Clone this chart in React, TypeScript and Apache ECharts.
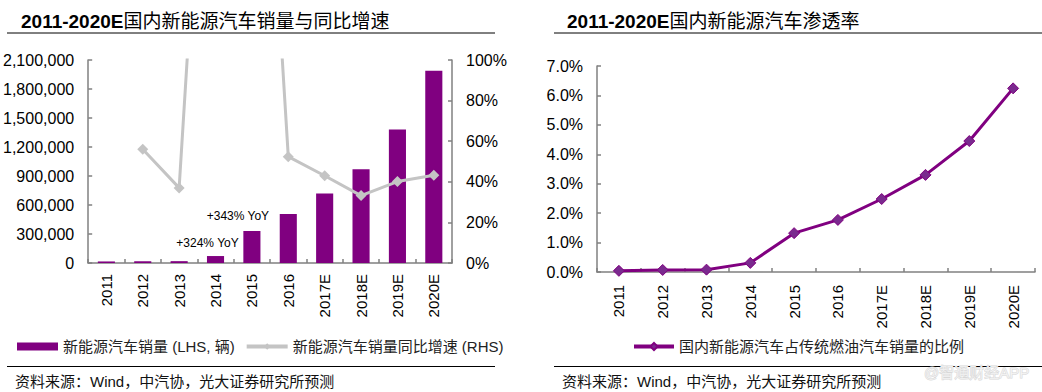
import React, { useEffect, useRef } from 'react';
import * as echarts from 'echarts';

const years = ['2011', '2012', '2013', '2014', '2015', '2016', '2017E', '2018E', '2019E', '2020E'];
const salesUnits = [16000, 18000, 19000, 72000, 331092, 507000, 720000, 970000, 1380000, 1990000];
const yoyGrowthPct = [null, 56, 37, 324, 343, 52.4, 43, 33.2, 40.1, 43.2];
const yoyNotes = ['', '', '', '+324% YoY', '+343% YoY', '', '', '', '', ''];
const penetrationPct = [0.04, 0.07, 0.08, 0.31, 1.32, 1.77, 2.48, 3.3, 4.45, 6.24];

const leftTitleNum = '2011-2020E';
const leftTitleText = '国内新能源汽车销量与同比增速';
const rightTitleText = '国内新能源汽车渗透率';
const salesName = '新能源汽车销量 (LHS, 辆)';
const growthName = '新能源汽车销量同比增速 (RHS)';
const penetrationName = '国内新能源汽车占传统燃油汽车销量的比例';
const sourceText = '资料来源：Wind，中汽协，光大证券研究所预测';
const watermark = '@智通财经APP';

const FONT = '"Liberation Sans", Arial, "Noto Sans CJK SC", sans-serif';
const AXIS = '#808080';
const PURPLE = '#800080';
const GRAY = '#C4C4C4';
const noteOffsets: Record<number, number[]> = { 3: [-8, -2], 4: [-14, -4] };

export default function App() {
  const ref = useRef<HTMLDivElement>(null);
  useEffect(() => {
    if (!ref.current) return;
    const chart = echarts.init(ref.current, null, { renderer: 'svg' });
    const axisLine = { show: true, lineStyle: { color: AXIS, width: 1.5 } };
    const tick = { show: true, inside: true, length: 4, lineStyle: { color: AXIS, width: 1.5 } };
    const xLabel = { rotate: 90, fontSize: 15, color: '#000', fontFamily: FONT, margin: 11 };
    const yLabel = { fontSize: 16, color: '#000', fontFamily: FONT, margin: 14 };
    chart.setOption({
      animation: false,
      textStyle: { fontFamily: FONT },
      title: [
        {
          text: `{a|${leftTitleNum}}{b|${leftTitleText}}`,
          left: 16, top: 7,
          textStyle: { rich: { a: { fontSize: 19, fontWeight: 'bold', color: '#000', fontFamily: FONT }, b: { fontSize: 19, fontWeight: 'normal', color: '#000', fontFamily: FONT } } },
        },
        {
          text: `{a|${leftTitleNum}}{b|${rightTitleText}}`,
          left: 562, top: 7,
          textStyle: { rich: { a: { fontSize: 19, fontWeight: 'bold', color: '#000', fontFamily: FONT }, b: { fontSize: 19, fontWeight: 'normal', color: '#000', fontFamily: FONT } } },
        },
      ],
      grid: [
        { left: 86, right: 590, top: 60, bottom: 129 },
        { left: 597, right: 7, top: 66, bottom: 120 },
      ],
      legend: [
        {
          data: [
            { name: salesName, icon: 'rect' },
            { name: growthName, lineStyle: { width: 4, color: GRAY } },
          ],
          left: 12, top: 334, itemWidth: 41, itemHeight: 8, itemGap: 10,
          textStyle: { fontSize: 15, color: '#222', fontFamily: FONT },
        },
        {
          data: [{ name: penetrationName, lineStyle: { width: 4, color: PURPLE } }],
          left: 627, top: 334, itemWidth: 40, itemHeight: 9,
          textStyle: { fontSize: 15, color: '#222', fontFamily: FONT },
        },
      ],
      xAxis: [
        { type: 'category', gridIndex: 0, data: years, axisLine, axisTick: tick, axisLabel: xLabel },
        { type: 'category', gridIndex: 1, data: years, axisLine, axisTick: tick, axisLabel: { ...xLabel, margin: 13 } },
      ],
      yAxis: [
        {
          type: 'value', gridIndex: 0, min: 0, max: 2100000, interval: 300000,
          axisLine, axisTick: tick, splitLine: { show: false },
          axisLabel: { ...yLabel, formatter: (v: number) => v.toLocaleString('en-US') },
        },
        {
          type: 'value', gridIndex: 0, position: 'right', min: 0, max: 100, interval: 20,
          axisLine, axisTick: tick, splitLine: { show: false },
          axisLabel: { ...yLabel, formatter: '{value}%' },
        },
        {
          type: 'value', gridIndex: 1, min: 0, max: 7, interval: 1,
          axisLine, axisTick: tick, splitLine: { show: false },
          axisLabel: { ...yLabel, formatter: (v: number) => v.toFixed(1) + '%' },
        },
      ],
      series: [
        {
          name: salesName, type: 'bar', xAxisIndex: 0, yAxisIndex: 0, barWidth: '47%',
          itemStyle: { color: PURPLE },
          data: salesUnits.map((v, i) => ({
            value: v,
            label: {
              show: !!yoyNotes[i], position: 'top', formatter: yoyNotes[i],
              offset: noteOffsets[i] || [0, 0], fontSize: 12, color: '#000', fontFamily: FONT,
            },
          })),
        },
        {
          name: growthName, type: 'line', xAxisIndex: 0, yAxisIndex: 1, clip: true,
          data: yoyGrowthPct, symbol: 'diamond', symbolSize: 11, connectNulls: false,
          lineStyle: { color: GRAY, width: 3 }, itemStyle: { color: GRAY },
        },
        {
          name: penetrationName, type: 'line', xAxisIndex: 1, yAxisIndex: 2,
          data: penetrationPct, symbol: 'diamond', symbolSize: 11,
          lineStyle: { color: PURPLE, width: 3 },
          itemStyle: { color: '#7a2a8e', borderColor: PURPLE, borderWidth: 1 },
        },
      ],
      graphic: [
        { type: 'line', shape: { x1: 7, y1: 33, x2: 495, y2: 33 }, style: { stroke: '#000', lineWidth: 1 } },
        { type: 'line', shape: { x1: 554, y1: 33, x2: 1042, y2: 33 }, style: { stroke: '#000', lineWidth: 1 } },
        { type: 'line', shape: { x1: 7, y1: 366.5, x2: 495, y2: 366.5 }, style: { stroke: '#000', lineWidth: 1 } },
        { type: 'line', shape: { x1: 554, y1: 366.5, x2: 1042, y2: 366.5 }, style: { stroke: '#000', lineWidth: 1 } },
        { type: 'text', x: 15, y: 381, style: { text: sourceText, fill: '#111', font: `15px ${FONT}`, verticalAlign: 'middle' } },
        { type: 'text', x: 562, y: 381, style: { text: sourceText, fill: '#111', font: `15px ${FONT}`, verticalAlign: 'middle' } },
        { type: 'text', x: 924, y: 372, style: { text: watermark, fill: 'rgba(255,255,255,0.6)', stroke: '#d8d8d8', lineWidth: 1, font: `15px ${FONT}`, verticalAlign: 'middle' } },
      ],
    });
    return () => chart.dispose();
  }, []);
  return <div ref={ref} style={{ position: 'fixed', left: 0, top: 0, width: 1042, height: 392, background: '#fff' }} />;
}
